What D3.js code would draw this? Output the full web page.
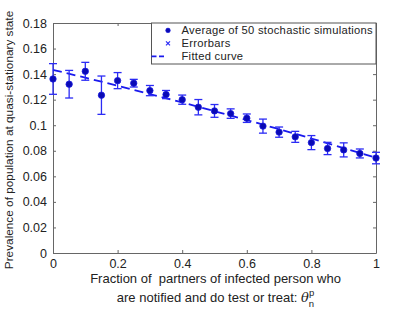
<!DOCTYPE html>
<html><head><meta charset="utf-8">
<script src="https://cdn.jsdelivr.net/npm/d3@7"></script>
<style>body{margin:0;background:#fff}svg{display:block}text{font-family:"Liberation Sans",Arial,Helvetica,sans-serif;fill:#222}</style>
</head><body><div id="chart"></div>
<script>
const xValues = [0,0.05,0.1,0.15,0.2,0.25,0.3,0.35,0.4,0.45,0.5,0.55,0.6,0.65,0.7,0.75,0.8,0.85,0.9,0.95,1];
const avgValues = [0.1362,0.1321,0.1422,0.1235,0.1349,0.1329,0.1271,0.1240,0.1200,0.1141,0.1112,0.1091,0.1055,0.0993,0.0946,0.0909,0.0864,0.0818,0.0807,0.0779,0.0743];
const errValues = [0.012,0.0108,0.007,0.015,0.0063,0.003,0.004,0.0032,0.0036,0.006,0.005,0.0037,0.0033,0.0055,0.004,0.0043,0.0055,0.0048,0.0055,0.0035,0.0045];
const fitX = [0,0.1,0.2,0.3,0.4,0.5,0.6,0.7,0.8,0.9,1];
const fitValues = [0.1433,0.1372,0.1309,0.1244,0.1178,0.1110,0.1040,0.0969,0.0896,0.0821,0.0745];
const xTicks = [0,0.2,0.4,0.6,0.8,1];
const yTicks = [0,0.02,0.04,0.06,0.08,0.1,0.12,0.14,0.16,0.18];
const legendLabels = ["Average of 50 stochastic simulations","Errorbars","Fitted curve"];

const W=415,H=312;
const m={left:53,right:376,top:23,bottom:253};
const svg=d3.select("#chart").append("svg").attr("width",W).attr("height",H);
const x=d3.scaleLinear().domain([0,1]).range([m.left,m.right]);
const y=d3.scaleLinear().domain([0,0.18]).range([m.bottom,m.top]);
const axisColor="#666";
const fmt=d=>d===0?"0":(d===1?"1":String(d));

// axes
const gB=svg.append("g").attr("transform",`translate(0,${m.bottom})`).call(d3.axisBottom(x).tickValues(xTicks).tickSizeInner(-3).tickSizeOuter(0).tickPadding(6).tickFormat(fmt));
const gT=svg.append("g").attr("transform",`translate(0,${m.top})`).call(d3.axisTop(x).tickValues(xTicks).tickSizeInner(-3).tickSizeOuter(0).tickFormat(""));
const gL=svg.append("g").attr("transform",`translate(${m.left},0)`).call(d3.axisLeft(y).tickValues(yTicks).tickSizeInner(-3).tickSizeOuter(0).tickPadding(6).tickFormat(fmt));
const gR=svg.append("g").attr("transform",`translate(${m.right},0)`).call(d3.axisRight(y).tickValues(yTicks).tickSizeInner(-3).tickSizeOuter(0).tickFormat(""));
[gB,gT,gL,gR].forEach(g=>{g.selectAll("path").attr("stroke",axisColor);g.selectAll("line").attr("stroke",axisColor);g.selectAll("text").attr("font-size",12.5).attr("fill","#222").attr("font-family",'"Liberation Sans",Arial,sans-serif');});

// fitted curve
svg.append("path").datum(fitX.map((d,i)=>[d,fitValues[i]]))
 .attr("d",d3.line().x(d=>x(d[0])).y(d=>y(d[1])).curve(d3.curveMonotoneX))
 .attr("fill","none").attr("stroke","#1a1aee").attr("stroke-width",1.8).attr("stroke-dasharray","9,5");

// error bars
const eb=svg.append("g").attr("stroke","#2b2bf5").attr("stroke-width",1.3);
xValues.forEach((xv,i)=>{
  const cx=x(xv),y1=y(avgValues[i]+errValues[i]),y0=y(avgValues[i]-errValues[i]);
  eb.append("line").attr("x1",cx).attr("x2",cx).attr("y1",y1).attr("y2",y0);
  eb.append("line").attr("x1",cx-4).attr("x2",cx+4).attr("y1",y1).attr("y2",y1);
  eb.append("line").attr("x1",cx-4).attr("x2",cx+4).attr("y1",y0).attr("y2",y0);
});
// points
svg.append("g").selectAll("circle").data(xValues).join("circle")
 .attr("cx",d=>x(d)).attr("cy",(d,i)=>y(avgValues[i])).attr("r",3.2)
 .attr("fill","#0a0ab4").attr("stroke","#1a1ae0").attr("stroke-width",0.8);

// legend
const lg=svg.append("g");
lg.append("rect").attr("x",151.5).attr("y",m.top).attr("width",m.right-151.5).attr("height",41)
 .attr("fill","#fff").attr("stroke","#555").attr("stroke-width",1);
const rowsY=[30.4,43.4,56.4];
lg.append("circle").attr("cx",168).attr("cy",rowsY[0]).attr("r",2.3).attr("fill","#0a0ab4").attr("stroke","#1a1ae0").attr("stroke-width",0.6);
lg.append("path").attr("d",`M166,${rowsY[1]-2}L170,${rowsY[1]+2}M166,${rowsY[1]+2}L170,${rowsY[1]-2}`).attr("stroke","#2b2bf5").attr("stroke-width",1.2);
lg.append("line").attr("x1",151.5).attr("x2",164).attr("y1",rowsY[2]).attr("y2",rowsY[2]).attr("stroke","#1a1aee").attr("stroke-width",1.8).attr("stroke-dasharray","5,2.5");
lg.selectAll("text.l").data(legendLabels).join("text").attr("class","l")
 .attr("x",181.5).attr("y",(d,i)=>rowsY[i]+4).attr("font-size",11.2).attr("letter-spacing",0.28).text(d=>d);

// y label
svg.append("text").attr("transform",`translate(13,${(m.top+m.bottom)/2+2}) rotate(-90)`)
 .attr("text-anchor","middle").attr("font-size",11.8).text("Prevalence of population at quasi-stationary state");

// x label
const cxl=(m.left+m.right)/2+1;
svg.append("text").attr("x",cxl).attr("y",283).attr("text-anchor","middle").attr("font-size",13)
 .style("white-space","pre").text("Fraction of  partners of infected person who");
const t2=svg.append("text").attr("x",cxl).attr("y",302).attr("text-anchor","middle").attr("font-size",13);
t2.append("tspan").text("are notified and do test or treat: ");
t2.append("tspan").attr("font-family",'"DejaVu Serif","Liberation Serif",serif').attr("font-style","italic").text("θ");
t2.append("tspan").attr("font-size",9.5).attr("dy",-6).text("p");
t2.append("tspan").attr("font-size",9.5).attr("dx",-5.5).attr("dy",11).text("n");
</script></body></html>
